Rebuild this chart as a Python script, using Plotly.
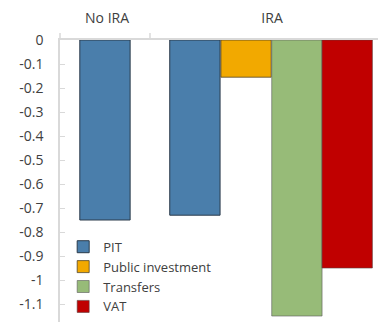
import plotly.graph_objects as go

# Categories along the top axis
categories = ["No IRA", "IRA"]

# Values per instrument (only PIT has a "No IRA" bar)
pit_values = [-0.75, -0.73]
public_investment_values = [-0.155]
transfers_values = [-1.15]
vat_values = [-0.95]

# Left axis ticks
y_tick_values = [0, -0.1, -0.2, -0.3, -0.4, -0.5, -0.6, -0.7, -0.8, -0.9, -1.0, -1.1]
y_tick_labels = ["0", "-0.1", "-0.2", "-0.3", "-0.4", "-0.5", "-0.6", "-0.7", "-0.8", "-0.9", "-1", "-1.1"]

FONT = "Open Sans"
TEXT = "#404040"
AXIS = "#d9d9d9"
W = 0.305

fig = go.Figure()
fig.add_trace(go.Bar(
    name="PIT", x=categories, y=pit_values,
    width=W, offset=[-0.165, -0.62],
    marker=dict(color="#4a7eab", line=dict(color="#2a3a4a", width=1)),
))
fig.add_trace(go.Bar(
    name="Public investment", x=categories[1:], y=public_investment_values,
    width=W, offset=-0.31,
    marker=dict(color="#f2a900", line=dict(color="rgba(70,60,40,0.75)", width=1)),
))
fig.add_trace(go.Bar(
    name="Transfers", x=categories[1:], y=transfers_values,
    width=W, offset=-0.002,
    marker=dict(color="#97bb78", line=dict(color="rgba(90,90,90,0.6)", width=1)),
))
fig.add_trace(go.Bar(
    name="VAT", x=categories[1:], y=vat_values,
    width=W, offset=0.303,
    marker=dict(color="#c00000", line=dict(color="rgba(90,60,60,0.6)", width=1)),
))

# Short boundary ticks above the top axis
for xp in [0.0, 0.283]:
    fig.add_shape(type="line", xref="paper", yref="paper",
                  x0=xp, x1=xp, y0=1, y1=1 + 7 / 282,
                  line=dict(color=AXIS, width=1.5))

fig.update_layout(
    width=378, height=322,
    margin=dict(l=60, r=0, t=40, b=0, autoexpand=False),
    paper_bgcolor="white", plot_bgcolor="white",
    barmode="overlay",
    font=dict(family=FONT, size=14, color=TEXT),
    showlegend=True,
    legend=dict(x=0.01, y=0.32, xanchor="left", yanchor="top",
                bgcolor="rgba(0,0,0,0)", font=dict(size=13, color=TEXT),
                itemwidth=30),
    xaxis=dict(
        type="category", side="top", range=[-0.285, 1.642],
        showline=True, linecolor=AXIS, linewidth=1.5,
        ticks="", showgrid=False, zeroline=False, automargin=False,
        tickfont=dict(size=14, color=TEXT),
        ticklabelstandoff=10,
    ),
    yaxis=dict(
        range=[-1.175, 0], automargin=False,
        tickvals=y_tick_values, ticktext=y_tick_labels,
        showline=True, linecolor=AXIS, linewidth=1.5,
        ticks="inside", ticklen=5, tickcolor=AXIS, tickwidth=1,
        showgrid=False, zeroline=False,
        tickfont=dict(size=14, color=TEXT),
        ticklabelstandoff=12,
    ),
)

fig.write_html("out.html")
